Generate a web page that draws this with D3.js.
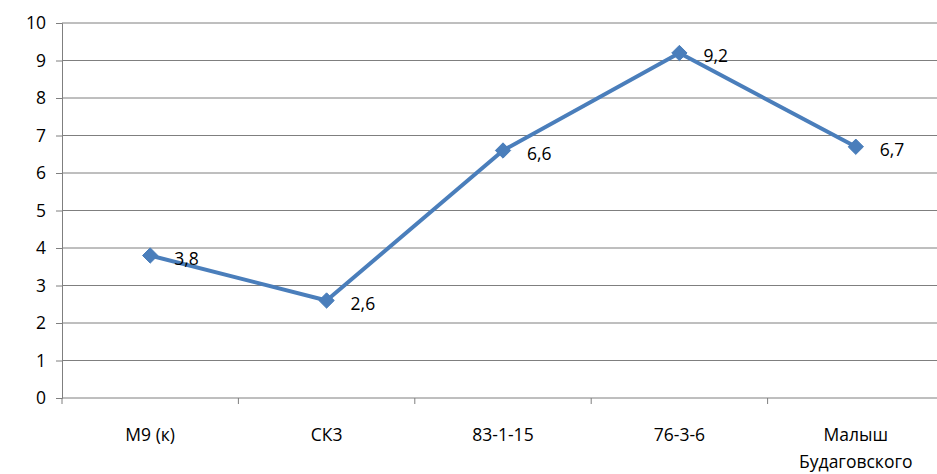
<!DOCTYPE html>
<html><head><meta charset="utf-8">
<script src="https://cdn.jsdelivr.net/npm/d3@7"></script>
<style>body{margin:0;background:#fff}text{font-family:"Open Sans","Liberation Sans",sans-serif;font-size:17.5px;fill:#000}</style>
</head><body><svg id="c" width="937" height="474"></svg>
<script>
const categories = [["M9 (к)"], ["СК3"], ["83-1-15"], ["76-3-6"], ["Малыш", "Будаговского"]];
const values = [3.8, 2.6, 6.6, 9.2, 6.7];
const yTicks = [0, 1, 2, 3, 4, 5, 6, 7, 8, 9, 10];

const svg = d3.select('#c');
const padLeft = 62, padRight = 944, padTop = 23, padBottom = 398;
const x = d3.scaleBand().domain(d3.range(categories.length)).range([padLeft, padRight]);
const y = d3.scaleLinear().domain([0, 10]).range([padBottom, padTop]);

// grid
svg.selectAll('.grid').data(yTicks.slice(1)).enter().append('line')
  .attr('x1', padLeft).attr('x2', padRight).attr('y1', d => y(d)).attr('y2', d => y(d))
  .attr('stroke', '#7f7f7f').attr('stroke-width', 1);

// y axis
const ya = svg.append('g').attr('transform', `translate(${padLeft},0)`)
  .call(d3.axisLeft(y).tickValues(yTicks).tickSize(6).tickPadding(10).tickFormat(d3.format('d')));
ya.selectAll('line,path').attr('stroke', '#7f7f7f');
ya.selectAll('text').style('font-size', '17.5px').style('font-family', '"Open Sans","Liberation Sans",sans-serif');

// x axis
const xa = svg.append('g').attr('transform', `translate(0,${padBottom})`);
xa.append('line').attr('x1', padLeft).attr('x2', padRight).attr('stroke', '#7f7f7f');
xa.selectAll('.t').data(d3.range(categories.length + 1)).enter().append('line')
  .attr('x1', d => padLeft + d * x.step()).attr('x2', d => padLeft + d * x.step())
  .attr('y1', 0).attr('y2', 6).attr('stroke', '#7f7f7f');
categories.forEach((c, i) => {
  c.forEach((s, j) => {
    svg.append('text').attr('x', x(i) + x.bandwidth() / 2).attr('y', 441 + j * 27)
      .attr('text-anchor', 'middle').text(s);
  });
});

// line
const cx = i => x(i) + x.bandwidth() / 2;
svg.append('path').datum(values)
  .attr('d', d3.line().x((d, i) => cx(i)).y(d => y(d)))
  .attr('fill', 'none').attr('stroke', '#4a7ebb').attr('stroke-width', 4).attr('stroke-linejoin', 'round');
svg.selectAll('.m').data(values).enter().append('path')
  .attr('transform', (d, i) => `translate(${cx(i)},${y(d)})`)
  .attr('d', d3.symbol(d3.symbolDiamond2, 150)())
  .attr('fill', '#4a7ebb').attr('stroke', '#4a7ebb').attr('stroke-width', 1);
svg.selectAll('.l').data(values).enter().append('text')
  .attr('x', (d, i) => cx(i) + 24).attr('y', d => y(d) + 9)
  .text(d => String(d).replace('.', ','));
</script></body></html>
